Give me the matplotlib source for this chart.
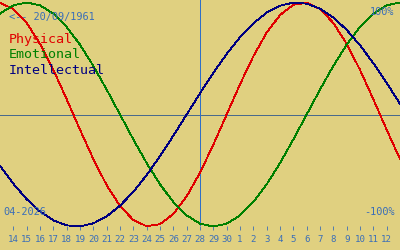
import matplotlib
matplotlib.use("Agg")
import matplotlib.pyplot as plt

# ---- data ----
day_labels = ["14", "15", "16", "17", "18", "19", "20", "21", "22", "23", "24", "25",
              "26", "27", "28", "29", "30", "1", "2", "3", "4", "5", "6", "7", "8",
              "9", "10", "11", "12"]
# sample positions: one day before first label .. one day after last label
sample_days = list(range(-1, 30))
physical = [0.9977, 0.9423, 0.8170, 0.6311, 0.3984, 0.1362, -0.1362, -0.3984, -0.6311,
            -0.8170, -0.9423, -0.9977, -0.9791, -0.8879, -0.7308, -0.5196, -0.2698, 0.0,
            0.2698, 0.5196, 0.7308, 0.8879, 0.9791, 0.9977, 0.9423, 0.8170, 0.6311, 0.3984,
            0.1362, -0.1362, -0.3984]
emotional = [0.9010, 0.9749, 1.0, 0.9749, 0.9010, 0.7818, 0.6235, 0.4339, 0.2225, 0.0,
             -0.2225, -0.4339, -0.6235, -0.7818, -0.9010, -0.9749, -1.0, -0.9749, -0.9010,
             -0.7818, -0.6235, -0.4339, -0.2225, 0.0, 0.2225, 0.4339, 0.6235, 0.7818,
             0.9010, 0.9749, 1.0]
intellectual = [-0.4582, -0.6182, -0.7557, -0.8660, -0.9450, -0.9898, -0.9989, -0.9718,
                -0.9096, -0.8146, -0.6901, -0.5406, -0.3717, -0.1893, 0.0, 0.1893, 0.3717,
                0.5406, 0.6901, 0.8146, 0.9096, 0.9718, 0.9989, 0.9898, 0.9450, 0.8660,
                0.7557, 0.6182, 0.4582, 0.2817, 0.0951]
today_index = 14
birth_text = "<-- 20/09/1961"
month_text = "04-2026"
series_names = ["Physical", "Emotional", "Intellectual"]

# ---- style ----
BG = "#e0d080"
BLUE_TXT = "#3a6eb8"
VLINE = "#2f6fc8"
HLINE = "#4a6a8c"
COLORS = ["#e00000", "#008000", "#000080"]
MONO = "DejaVu Sans Mono"

W, H = 400, 250
fig = plt.figure(figsize=(W / 100, H / 100), dpi=100)
fig.patch.set_facecolor(BG)
ax_bottom_px = 226
ax = fig.add_axes([0, (H - ax_bottom_px) / H, 1, ax_bottom_px / H])
ax.set_facecolor(BG)

center_px, amp_px = 114.5, 112.0
ax.set_xlim(-1, 29)
ax.set_ylim((center_px - ax_bottom_px) / amp_px, center_px / amp_px)

for s in ax.spines.values():
    s.set_visible(False)

LW = 0.6
ax.axhline(0, color=HLINE, lw=LW, zorder=2, antialiased=False)
ax.axvline(today_index, color=VLINE, lw=LW, zorder=2, antialiased=False)

for vals, col in zip([physical, emotional, intellectual], COLORS):
    ax.plot(sample_days, vals, color=col, lw=LW, zorder=3, clip_on=False,
            antialiased=False)

ax.set_yticks([])
ax.set_xticks(range(len(day_labels)))
ax.set_xticklabels(day_labels, family=MONO, fontsize=6.6, color=BLUE_TXT)
ax.tick_params(axis="x", direction="out", length=3.2, width=LW, color=BLUE_TXT, pad=3.0)

def px_text(x, y, s, **kw):
    fig.text(x / W, 1 - y / H, s, family=MONO, zorder=1, **kw)

px_text(9, 17, birth_text, fontsize=7.4, color=BLUE_TXT, va="center", ha="left")
for k, (name, col) in enumerate(zip(series_names, COLORS)):
    px_text(9, 39 + k * 15.5, name, fontsize=9.6, color=col, va="center", ha="left")
px_text(394, 12, "100%", fontsize=7.4, color=BLUE_TXT, va="center", ha="right")
px_text(395, 212, "-100%", fontsize=7.4, color=BLUE_TXT, va="center", ha="right")
px_text(3, 212, month_text, fontsize=7.4, color=BLUE_TXT, va="center", ha="left")

fig.savefig("out.png", dpi=100, facecolor=BG)
